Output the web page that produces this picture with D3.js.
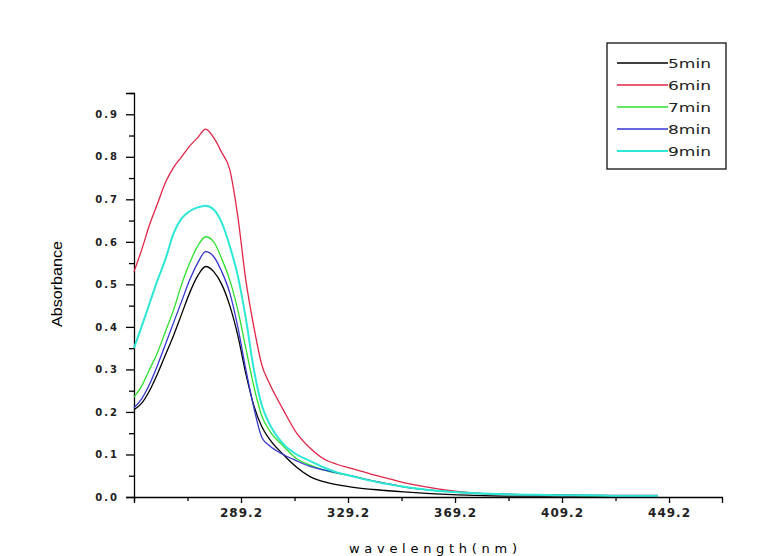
<!DOCTYPE html>
<html>
<head>
<meta charset="utf-8">
<script src="https://cdnjs.cloudflare.com/ajax/libs/d3/7.8.5/d3.min.js"></script>
<style>
  body { margin: 0; background: #fff; }
  svg { display: block; }
  .tick text { font-family: "DejaVu Sans", sans-serif; font-weight: bold; }
</style>
</head>
<body>
<div id="chart"></div>
<script>
// wavelengths (nm) shared by every series
var wavelengths = [249.2, 252, 255, 258, 261, 264, 267, 270, 273, 276, 279, 282, 285, 288, 291, 294, 297, 300,
  305, 310, 315, 320, 325, 330, 340, 350, 360, 370, 380, 390, 400, 410, 420, 430, 445]

var seriesNames = ["5min", "6min", "7min", "8min", "9min"]
var seriesColors = ["#000000", "#e02646", "#2ee02e", "#3535d0", "#2ee8d6"]

var abs5 = [0.205, 0.22, 0.25, 0.29, 0.335, 0.38, 0.43, 0.48, 0.52, 0.542, 0.53, 0.50, 0.45, 0.38, 0.29, 0.215, 0.165, 0.135,
  0.10, 0.07, 0.048, 0.036, 0.029, 0.024, 0.017, 0.012, 0.008, 0.005, 0.003, 0.002, 0.002, 0.002, 0.002, 0.002, 0.002]
var abs6 = [0.53, 0.58, 0.64, 0.69, 0.74, 0.775, 0.80, 0.825, 0.845, 0.865, 0.845, 0.81, 0.77, 0.66, 0.51, 0.40, 0.31, 0.265,
  0.205, 0.15, 0.115, 0.09, 0.077, 0.068, 0.05, 0.034, 0.022, 0.013, 0.008, 0.006, 0.005, 0.004, 0.004, 0.004, 0.004]
var abs7 = [0.235, 0.26, 0.30, 0.34, 0.39, 0.44, 0.50, 0.55, 0.59, 0.612, 0.60, 0.56, 0.51, 0.44, 0.35, 0.26, 0.19, 0.155,
  0.12, 0.09, 0.075, 0.064, 0.056, 0.05, 0.036, 0.024, 0.016, 0.011, 0.008, 0.006, 0.005, 0.004, 0.003, 0.003, 0.003]
var abs8 = [0.21, 0.23, 0.265, 0.31, 0.36, 0.41, 0.46, 0.51, 0.55, 0.577, 0.565, 0.53, 0.48, 0.40, 0.30, 0.21, 0.14, 0.12,
  0.10, 0.085, 0.072, 0.064, 0.057, 0.05, 0.036, 0.024, 0.016, 0.011, 0.008, 0.006, 0.005, 0.005, 0.004, 0.003, 0.003]
var abs9 = [0.35, 0.40, 0.455, 0.51, 0.56, 0.62, 0.655, 0.672, 0.681, 0.685, 0.676, 0.645, 0.59, 0.52, 0.42, 0.30, 0.215, 0.17,
  0.125, 0.10, 0.085, 0.07, 0.058, 0.05, 0.035, 0.024, 0.016, 0.011, 0.008, 0.006, 0.005, 0.004, 0.004, 0.003, 0.003]
var seriesValues = [abs5, abs6, abs7, abs8, abs9]

var xMajor = [289.2, 329.2, 369.2, 409.2, 449.2]
var xMinor = [249.2, 269.2, 309.2, 349.2, 389.2, 429.2]
var yMajor = [0.0, 0.1, 0.2, 0.3, 0.4, 0.5, 0.6, 0.7, 0.8, 0.9]
var yMinor = [0.05, 0.15, 0.25, 0.35, 0.45, 0.55, 0.65, 0.75, 0.85, 0.95]

var width = 765, height = 556
var margin = {top: 93, left: 134, right: 43, bottom: 59}

var svg = d3.select("#chart").append("svg").attr("width", width).attr("height", height)

var x = d3.scaleLinear().domain([249.2, 469]).range([margin.left, width - margin.right])
var y = d3.scaleLinear().domain([0, 0.95]).range([height - margin.bottom, margin.top])

// minor ticks first, then the labelled ones
svg.append("g").attr("transform", "translate(0," + y(0) + ")")
    .call(d3.axisBottom(x).tickValues(xMinor).tickSize(4).tickFormat(""))
    .call(g => g.select(".domain").remove())
svg.append("g").attr("transform", "translate(" + x(249.2) + ",0)")
    .call(d3.axisLeft(y).tickValues(yMinor).tickSize(5).tickFormat(""))
    .call(g => g.select(".domain").remove())

var axX = svg.append("g").attr("transform", "translate(0," + y(0) + ")")
    .call(d3.axisBottom(x).tickValues(xMajor).tickSize(6).tickPadding(5).tickFormat(d3.format(".1f")))
axX.selectAll("text").attr("font-size", 12).attr("letter-spacing", 1).attr("fill", "#222")

var axY = svg.append("g").attr("transform", "translate(" + x(249.2) + ",0)")
    .call(d3.axisLeft(y).tickValues(yMajor).tickSize(8).tickPadding(7).tickFormat(d3.format(".1f")))
axY.selectAll("text").attr("font-size", 10).attr("letter-spacing", 2).attr("fill", "#222")

svg.selectAll(".domain").attr("stroke-width", 1.3)
svg.selectAll(".tick line").attr("stroke-width", 1.3)

var line = d3.line()
    .x((d, i) => x(wavelengths[i]))
    .y(d => y(d))
    .curve(d3.curveMonotoneX)

svg.append("g").selectAll("path")
  .data(seriesValues)
  .join("path")
    .attr("d", line)
    .attr("fill", "none")
    .attr("stroke", (d, i) => seriesColors[i])
    .attr("stroke-width", (d, i) => i === 4 ? 2 : 1.3)

// axis titles
svg.append("text")
    .attr("transform", "translate(62,284) rotate(-90)")
    .attr("text-anchor", "middle")
    .attr("font-family", "Liberation Sans, Arial, sans-serif")
    .attr("font-size", 14)
    .attr("textLength", 86)
    .attr("lengthAdjust", "spacingAndGlyphs")
    .text("Absorbance")

svg.append("text")
    .attr("x", 433).attr("y", 553)
    .attr("text-anchor", "middle")
    .attr("font-family", "DejaVu Sans, sans-serif")
    .attr("font-size", 13)
    .attr("textLength", 168)
    .attr("lengthAdjust", "spacing")
    .text("wavelength(nm)")

// legend
var legend = svg.append("g")
legend.append("rect")
    .attr("x", 607).attr("y", 43).attr("width", 119).attr("height", 126)
    .attr("fill", "#fff").attr("stroke", "#111").attr("stroke-width", 1.3)

var rows = legend.selectAll("g.row").data(seriesNames).join("g")
    .attr("class", "row")
    .attr("transform", (d, i) => "translate(0," + (63 + i * 22) + ")")
rows.append("line")
    .attr("x1", 617).attr("x2", 668)
    .attr("stroke", (d, i) => seriesColors[i])
    .attr("stroke-width", (d, i) => i === 4 ? 2 : 1.3)
rows.append("text")
    .attr("x", 668).attr("y", 5)
    .attr("font-family", "DejaVu Sans, sans-serif")
    .attr("font-size", 13)
    .attr("textLength", 43)
    .attr("lengthAdjust", "spacingAndGlyphs")
    .attr("fill", "#222")
    .text(d => d)
</script>
</body>
</html>
